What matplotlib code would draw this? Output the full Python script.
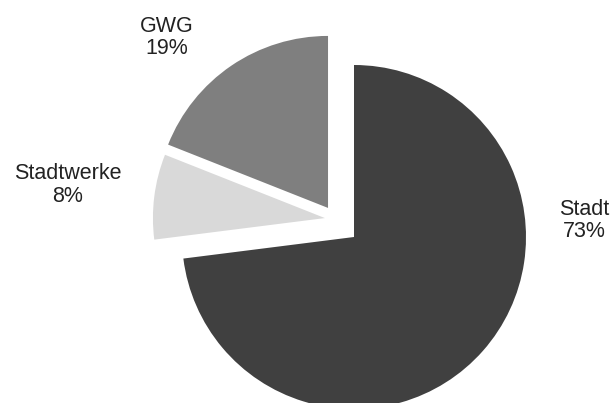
import matplotlib
matplotlib.use("Agg")
import matplotlib.pyplot as plt

categories = ["Stadt", "Stadtwerke", "GWG"]
values = [73, 8, 19]
colors = ["#404040", "#d9d9d9", "#7f7f7f"]

# layout (in units of pie radius, origin = unexploded pie centre)
offsets = [(0.0, 0.0), (-0.169, 0.110), (-0.151, 0.169)]
label_pos = [(1.337, 0.096), (-1.663, 0.302), (-1.087, 1.16)]

plt.rcParams["font.family"] = ["Liberation Sans", "DejaVu Sans"]

W, H = 612, 403
fig = plt.figure(figsize=(W / 100, H / 100), dpi=100)
cx, cy, r = 354, 403 - 237, 172
k = 1.3
half = r * k
ax = fig.add_axes([(cx - half) / W, (cy - half) / H, 2 * half / W, 2 * half / H])

wedges, _ = ax.pie(values, colors=colors, startangle=90, counterclock=False,
                   radius=1.0, wedgeprops=dict(linewidth=0))
for w, (dx, dy) in zip(wedges, offsets):
    w.set_center((dx, dy))
    w.set_clip_on(False)

ax.set_xlim(-k, k)
ax.set_ylim(-k, k)
ax.set_aspect("equal")
ax.axis("off")

for cat, val, (lx, ly) in zip(categories, values, label_pos):
    ax.text(lx, ly, f"{cat}\n{val}%", ha="center", va="center",
            multialignment="center", fontsize=15.5, color="#222222",
            linespacing=1.08, clip_on=False)

fig.savefig("out.png", dpi=100)
